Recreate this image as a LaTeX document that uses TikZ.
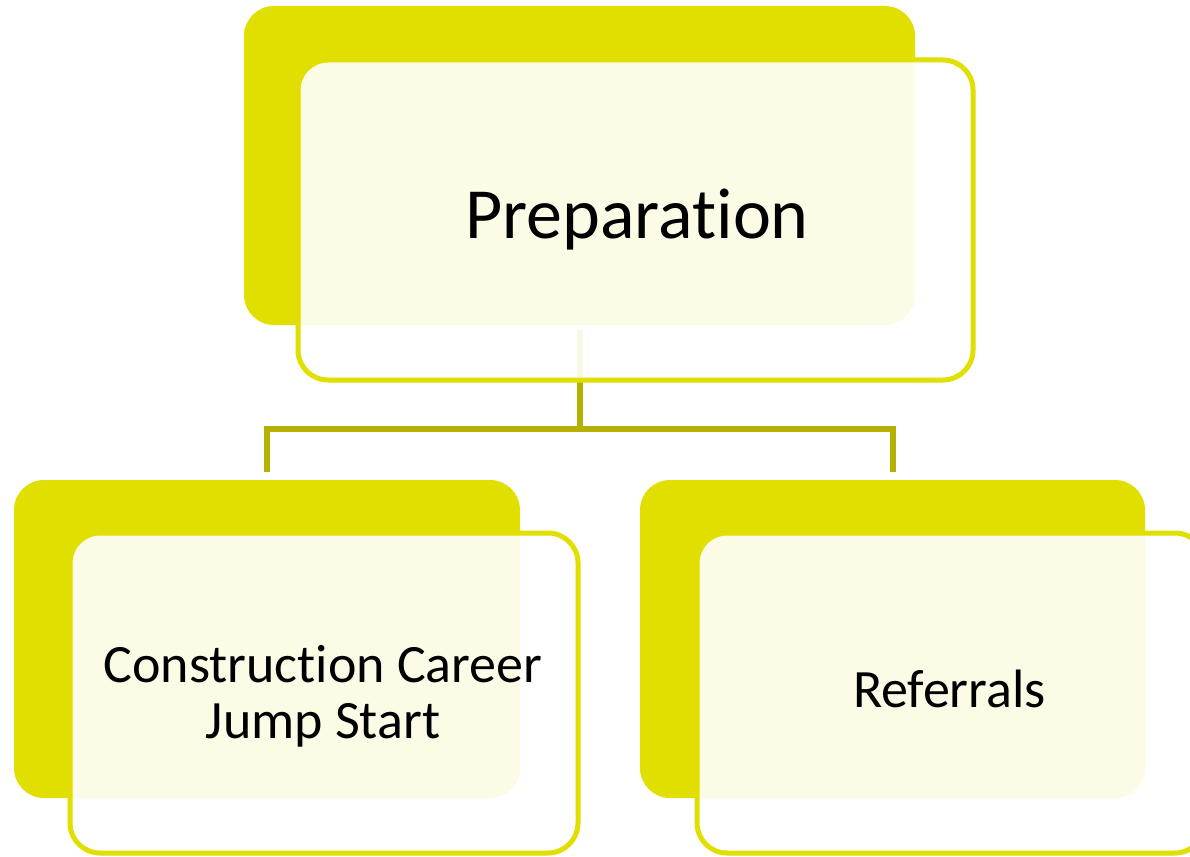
\documentclass[tikz,border=0pt]{standalone}
\usepackage{fontspec}
\setmainfont{Carlito}[RawFeature={-liga;-dlig;-clig;-calt}]
\newcommand{\nolig}{\kern0pt}
\definecolor{ylw}{HTML}{E0DF00}
\definecolor{olv}{HTML}{B5B100}
\begin{document}
\begin{tikzpicture}[x=1pt,y=-1pt,
  backbox/.style={fill=ylw, rounded corners=30pt, inner sep=0pt, outer sep=0pt},
  frontbox/.style={draw=ylw, line width=5pt, fill=white, fill opacity=0.9, rounded corners=30pt, inner sep=0pt, outer sep=0pt},
  conn/.style={draw=olv, line width=6pt},
  biglbl/.style={font=\fontsize{72}{80}\selectfont, inner sep=0pt, text=black},
  lbl/.style={font=\fontsize{54}{56}\selectfont, inner sep=0pt, text=black, align=center}]
\useasboundingbox (0,0) rectangle (1190,856);
\fill[white] (0,0) rectangle (1190,856);
% back boxes
\node[backbox, minimum width=671pt, minimum height=319pt] (pb) at (579.5,165.5) {};
\node[backbox, minimum width=506pt, minimum height=318pt] (lb) at (267,639) {};
\node[backbox, minimum width=505pt, minimum height=318pt] (rb) at (892.5,639) {};
% connectors
\draw[conn] ([yshift=8pt]lb.north) -- ++(0,-43) coordinate (hl) -| ([yshift=8pt]rb.north);
\draw[conn] ([yshift=-5pt]pb.south) -- (pb.south |- hl);
% front boxes
\node[frontbox, minimum width=675pt, minimum height=320pt] (pf) at (635.5,220) {};
\node[frontbox, minimum width=508pt, minimum height=320pt] (lf) at (324,693) {};
\node[frontbox, minimum width=508pt, minimum height=320pt] (rf) at (951,693) {};
% labels
\node[biglbl, anchor=base] (tp) at (637,238) {Preparat\nolig ion};
\node[lbl, anchor=base] (tl) at (323,738) {Construct\nolig ion Career\\Jump Start};
\node[lbl, anchor=base] (tr) at (949.5,707) {Referrals};
\end{tikzpicture}
\end{document}
